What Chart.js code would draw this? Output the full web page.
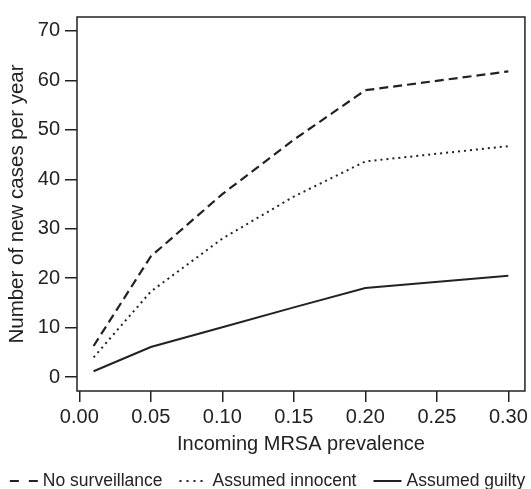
<!DOCTYPE html>
<html>
<head>
<meta charset="utf-8">
<script src="https://cdn.jsdelivr.net/npm/chart.js@4.4.1/dist/chart.umd.min.js"></script>
<style>
  html, body { margin: 0; padding: 0; background: #fff; }
  #wrap { width: 531px; height: 489px; }
</style>
</head>
<body>
<div id="wrap"><canvas id="mrsaChart" width="531" height="489"></canvas></div>
<script>
// values
const prevalence = [0.01, 0.05, 0.10, 0.15, 0.20, 0.30];
const noSurveillance = [6.3, 24.4, 37.0, 48.0, 58.0, 61.8];
const assumedInnocent = [4.0, 17.3, 28.0, 36.5, 43.6, 46.7];
const assumedGuilty = [1.2, 6.1, 10.1, 14.1, 18.0, 20.5];

const seriesNames = ['No surveillance', 'Assumed innocent', 'Assumed guilty'];
const xTicks = [0, 0.05, 0.10, 0.15, 0.20, 0.25, 0.30];
const yTicks = [0, 10, 20, 30, 40, 50, 60, 70];

const ink = '#222';
const fontFamily = '"Liberation Sans", Arial, Helvetica, sans-serif';

function points(values) {
    return prevalence.map((x, i) => ({ x: x, y: values[i] }));
}

// box round the plot area, like R's box()
const boxPlugin = {
    id: 'box',
    afterDraw(chart) {
        const { ctx, chartArea: a } = chart;
        ctx.save();
        ctx.strokeStyle = ink;
        ctx.lineWidth = 1.5;
        ctx.strokeRect(a.left, a.top, a.right - a.left, a.bottom - a.top);
        ctx.restore();
    }
};

// legend in one row along the bottom, sample line then label
const bottomLegend = {
    id: 'bottomLegend',
    afterDraw(chart) {
        const ctx = chart.ctx;
        const y = 481;
        const sample = 28, gap = 5, between = 17;
        ctx.save();
        ctx.font = '17.5px ' + fontFamily;
        ctx.textBaseline = 'middle';
        ctx.textAlign = 'left';
        const sets = chart.data.datasets;
        let total = 0;
        sets.forEach((ds, i) => {
            total += sample + gap + ctx.measureText(ds.label).width;
            if (i < sets.length - 1) total += between;
        });
        let x = (chart.width - total) / 2 + 2;
        sets.forEach(ds => {
            ctx.strokeStyle = ds.borderColor;
            ctx.lineWidth = ds.borderWidth;
            ctx.setLineDash(ds.legendDash || ds.borderDash || []);
            ctx.beginPath();
            ctx.moveTo(x, y);
            ctx.lineTo(x + sample, y);
            ctx.stroke();
            ctx.setLineDash([]);
            ctx.fillStyle = ink;
            ctx.fillText(ds.label, x + sample + gap, y);
            x += sample + gap + ctx.measureText(ds.label).width + between;
        });
        ctx.restore();
    }
};

const ctx = document.getElementById('mrsaChart').getContext('2d');
new Chart(ctx, {
    type: 'scatter',
    data: {
        datasets: [
            {
                label: seriesNames[0],
                data: points(noSurveillance),
                showLine: true,
                borderColor: ink,
                borderWidth: 2.2,
                borderDash: [9, 5],
                legendDash: [9, 10],
                pointRadius: 0
            },
            {
                label: seriesNames[1],
                data: points(assumedInnocent),
                showLine: true,
                borderColor: ink,
                borderWidth: 2,
                borderDash: [2, 4],
                legendDash: [2, 5],
                pointRadius: 0
            },
            {
                label: seriesNames[2],
                data: points(assumedGuilty),
                showLine: true,
                borderColor: ink,
                borderWidth: 2,
                pointRadius: 0
            }
        ]
    },
    options: {
        responsive: false,
        animation: false,
        layout: { padding: { top: 13, right: 5, bottom: 32, left: 0 } },
        plugins: {
            legend: { display: false },
            tooltip: { enabled: false }
        },
        scales: {
            x: {
                type: 'linear',
                min: -0.0016,
                max: 0.3116,
                afterBuildTicks: scale => { scale.ticks = xTicks.map(v => ({ value: v })); },
                afterFit: scale => { scale.height = 66; },
                border: { display: false },
                grid: { drawOnChartArea: false, drawTicks: true, tickLength: 11, color: ink, lineWidth: 1.5 },
                ticks: {
                    color: ink,
                    padding: 3,
                    maxRotation: 0,
                    font: { family: fontFamily, size: 20 },
                    callback: v => v.toFixed(2)
                },
                title: {
                    display: true,
                    text: 'Incoming MRSA prevalence',
                    color: ink,
                    font: { family: fontFamily, size: 20 },
                    padding: { top: 0, bottom: 1 }
                }
            },
            y: {
                min: -2.8,
                max: 72.8,
                afterBuildTicks: scale => { scale.ticks = yTicks.map(v => ({ value: v })); },
                afterFit: scale => { scale.width = 77; },
                border: { display: false },
                grid: { drawOnChartArea: false, drawTicks: true, tickLength: 12, color: ink, lineWidth: 1.5 },
                ticks: {
                    color: ink,
                    padding: 5,
                    font: { family: fontFamily, size: 20 }
                },
                title: {
                    display: true,
                    text: 'Number of new cases per year',
                    color: ink,
                    font: { family: fontFamily, size: 20.5 },
                    padding: { top: 5, bottom: 0 }
                }
            }
        }
    },
    plugins: [boxPlugin, bottomLegend]
});
</script>
</body>
</html>
